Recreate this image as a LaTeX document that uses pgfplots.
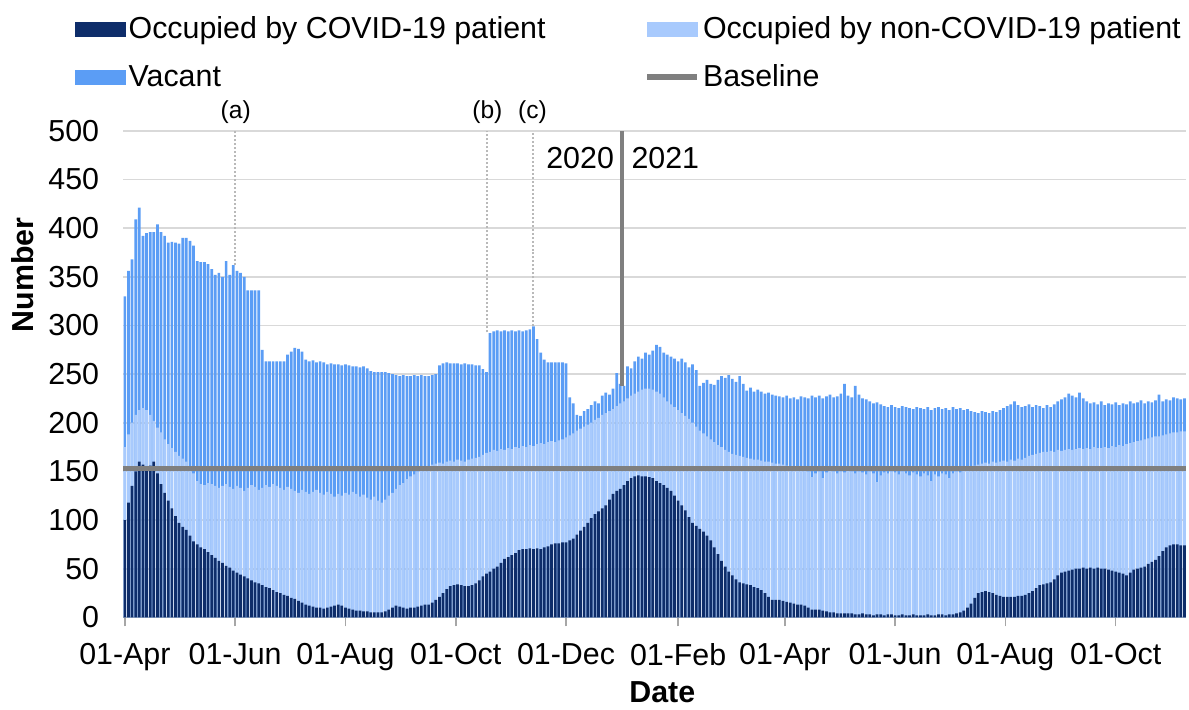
\documentclass[border=0pt]{standalone}
\usepackage{fontspec}
\setmainfont{Liberation Sans}
\usepackage{pgfplots}
\usepackage{pgfplotstable}
\pgfplotsset{compat=1.18}
\definecolor{covid}{HTML}{0E2D6A}
\definecolor{noncovid}{HTML}{A8CAFD}
\definecolor{vacant}{HTML}{5B9DF5}
\definecolor{basegray}{HTML}{7F7F7F}
\definecolor{gridgray}{HTML}{D9D9D9}
% d = days since 01-Apr-2020; c = occupied by COVID-19 patient;
% cn = occupied in total (COVID + non-COVID); t = all beds (occupied + vacant)
\pgfplotstableread{
d c cn t
0 100 175 330
2 118 188 356
4 135 200 368
6 150 208 409
8 160 213 421
10 157 215 392
12 155 213 395
14 156 208 396
16 160 202 396
18 148 195 404
20 137 190 396
22 128 183 392
24 120 178 385
26 112 174 386
28 104 170 385
30 97 166 384
32 93 163 390
34 90 160 390
36 84 155 387
38 78 148 382
40 75 140 366
42 72 137 365
44 70 136 365
46 67 138 363
48 64 137 358
50 61 135 352
52 58 133 354
54 56 135 350
56 53 137 366
58 51 134 352
60 48 132 362
62 46 135 356
64 44 133 354
66 42 130 350
68 40 133 336
70 38 136 336
72 36 134 336
74 35 131 336
76 33 133 275
78 31 136 263
80 30 134 263
82 28 137 263
84 26 135 263
86 25 133 263
88 23 131 263
90 22 134 270
92 20 132 273
94 19 130 277
96 17 128 276
98 15 131 273
100 13 129 265
102 12 127 263
104 11 129 264
106 10 131 262
108 10 128 263
110 9 126 262
112 10 129 260
114 11 127 261
116 12 124 260
118 13 127 260
120 12 125 259
122 10 128 260
124 9 126 259
126 8 129 258
128 7 127 258
130 7 124 257
132 6 126 258
134 6 123 256
136 5 121 253
138 5 124 252
140 5 120 252
142 5 118 252
144 6 121 252
146 8 125 251
148 10 128 250
150 12 132 249
152 11 136 248
154 10 138 249
156 9 142 248
158 10 145 248
160 10 147 249
162 11 150 248
164 12 152 249
166 13 153 248
168 13 155 248
170 15 157 249
172 18 158 250
174 21 159 259
176 25 158 261
178 29 160 262
180 32 161 261
182 33 160 261
184 34 162 261
186 33 161 260
188 32 160 261
190 32 162 260
192 33 163 260
194 35 164 259
196 38 165 259
198 42 167 255
200 45 169 252
202 47 170 292
204 50 172 294
206 52 171 295
208 56 173 294
210 60 172 295
212 62 174 294
214 64 173 295
216 66 175 294
218 69 174 295
220 70 176 294
222 70 175 295
224 71 177 296
226 70 176 299
228 71 178 286
230 70 179 272
232 72 178 265
234 73 180 262
236 75 181 262
238 76 180 262
240 76 182 262
242 77 183 262
244 77 185 261
246 79 187 226
248 81 189 220
250 85 192 208
252 89 194 207
254 93 196 212
256 97 198 214
258 102 200 218
260 106 203 222
262 109 205 220
264 112 208 228
266 115 210 231
268 121 212 229
270 127 214 235
272 130 217 251
274 132 220 240
276 136 222 238
278 140 225 258
280 143 228 256
282 145 230 263
284 146 232 268
286 145 234 266
288 145 235 272
290 144 235 270
292 143 234 274
294 140 232 280
296 138 230 278
298 136 226 272
300 133 222 270
302 130 219 268
304 125 216 266
306 120 213 263
308 115 210 266
310 110 207 262
312 103 204 257
314 97 200 260
316 94 196 254
318 91 192 238
320 88 189 241
322 84 186 244
324 79 183 240
326 72 180 239
328 65 177 244
330 58 175 248
332 52 172 246
334 47 170 249
336 43 168 245
338 39 167 242
340 36 166 248
342 35 165 240
344 34 164 233
346 33 163 236
348 31 162 232
350 30 162 234
352 28 161 232
354 25 160 230
356 21 160 231
358 18 159 229
360 18 158 228
362 18 158 227
364 17 157 226
366 16 156 228
368 15 155 225
370 14 154 226
372 13 153 224
374 13 152 227
376 12 153 226
378 10 150 225
380 8 144 228
382 8 148 226
384 8 150 228
386 7 143 225
388 6 149 227
390 5 151 229
392 5 150 226
394 4 148 227
396 4 150 230
398 4 149 240
400 4 151 228
402 4 150 226
404 3 148 238
406 3 150 229
408 4 149 225
410 3 147 224
412 3 150 222
414 2 148 220
416 3 139 221
418 3 146 219
420 2 149 217
422 3 148 216
424 3 150 218
426 2 149 216
428 2 147 215
430 3 150 217
432 2 148 216
434 2 146 215
436 3 149 214
438 2 147 216
440 2 145 215
442 2 148 214
444 3 146 216
446 2 140 213
448 2 147 215
450 3 145 216
452 3 148 214
454 2 147 215
456 3 143 213
458 3 148 216
460 4 150 214
462 5 149 215
464 7 151 213
466 10 153 214
468 14 155 212
470 20 156 211
472 25 157 210
474 26 158 212
476 27 159 211
478 26 158 210
480 25 160 212
482 23 159 211
484 22 160 213
486 21 161 215
488 21 160 217
490 21 162 219
492 21 161 222
494 22 163 218
496 22 162 216
498 23 164 217
500 25 166 219
502 27 167 216
504 30 168 218
506 33 169 217
508 34 170 215
510 35 170 218
512 36 171 216
514 39 170 219
516 43 172 222
518 46 171 224
520 47 172 226
522 48 173 230
524 49 172 228
526 50 173 226
528 50 174 231
530 51 173 225
532 50 174 222
534 51 173 220
536 50 175 221
538 51 174 219
540 50 174 222
542 50 175 218
544 49 174 220
546 48 176 219
548 47 175 221
550 46 177 218
552 45 176 220
554 43 178 219
556 46 179 222
558 49 180 220
560 50 181 221
562 51 182 223
564 52 183 220
566 55 184 222
568 57 185 221
570 59 186 223
572 63 186 229
574 68 187 222
576 72 188 224
578 74 189 223
580 75 190 226
582 75 190 225
584 74 191 224
586 74 191 225
}\datatable
\begin{document}
\begin{tikzpicture}
\begin{axis}[
  scale only axis, width=532.14pt, height=243.5pt,
  xmin=-1, xmax=587, ymin=0, ymax=500,
  clip=false,
  axis x line*=bottom, axis y line*=left,
  y axis line style={draw=none},
  x axis line style={draw=gray!70, line width=0.8pt},
  xtick={0,61,122,183,244,306,365,426,487,548},
  xticklabels={01-Apr,01-Jun,01-Aug,01-Oct,01-Dec,01-Feb,01-Apr,01-Jun,01-Aug,01-Oct},
  ytick={0,50,...,500},
  tick align=outside, major tick length=4.5pt,
  xtick style={draw=gray!70, line width=0.8pt},
  ytick style={draw=none},
  ymajorgrids, major grid style={draw=gridgray, line width=0.9pt},
  /pgf/number format/assume math mode=true,
  tick label style={font=\fontsize{15.2}{18}\selectfont},
  xticklabel style={anchor=north, inner sep=0pt, yshift=-8.3pt},
  yticklabel style={anchor=east, inner sep=0pt, xshift=-7.3pt},
  xlabel={Date}, ylabel={Number},
  every axis x label/.style={at={(axis description cs:0.5072,-0.154)}, anchor=center, font=\bfseries\fontsize{15.2}{18}\selectfont},
  every axis y label/.style={at={(axis description cs:-0.0941,0.7043)}, anchor=center, rotate=90, font=\bfseries\fontsize{15.2}{18}\selectfont},
  legend columns=2,
  legend style={draw=none, fill=none, inner sep=0pt, outer sep=0pt,
    at={(axis description cs:-0.04528,1.2402)}, anchor=north west,
    font=\fontsize{15.2}{18}\selectfont, row sep=7pt,
    nodes={inner sep=1.5pt, text height=11pt, text depth=3pt},
    cells={anchor=base west},
    /tikz/every even column/.append style={column sep=48pt}},
]
\addlegendimage{legend image code/.code={\fill[covid] (0pt,1.5pt) rectangle (25pt,8.5pt);}}
\addlegendentry{Occupied by COVID-19 patient}
\addlegendimage{legend image code/.code={\fill[noncovid] (0pt,1.5pt) rectangle (25pt,8.5pt);}}
\addlegendentry{Occupied by non-COVID-19 patient}
\addlegendimage{legend image code/.code={\fill[vacant] (0pt,1.5pt) rectangle (25pt,8.5pt);}}
\addlegendentry{Vacant}
\addlegendimage{legend image code/.code={\draw[basegray, line width=2.8pt] (0pt,5pt) -- (25pt,5pt);}}
\addlegendentry{Baseline}

\addplot[ybar, bar width=1.5, bar shift=0pt, fill=vacant, draw=none, forget plot] table[x=d, y=t] {\datatable};
\addplot[ybar, bar width=1.5, bar shift=0pt, fill=noncovid, draw=none, forget plot] table[x=d, y=cn] {\datatable};
\addplot[ybar, bar width=1.5, bar shift=0pt, fill=covid, draw=none, forget plot] table[x=d, y=c] {\datatable};

\addplot[forget plot, draw=gray!55, line width=1pt, densely dotted] coordinates {(61,362) (61,500)};
\addplot[forget plot, draw=gray!55, line width=1pt, densely dotted] coordinates {(200.5,293) (200.5,500)};
\addplot[forget plot, draw=gray!55, line width=1pt, densely dotted] coordinates {(225.5,299) (225.5,500)};
\addplot[forget plot, draw=basegray, line width=1.6pt] coordinates {(275,238) (275,500)};
\addplot[forget plot, draw=basegray, line width=2.8pt] coordinates {(-1,153) (587,153)};

\node[font=\fontsize{12.3}{14}\selectfont, inner sep=0pt] at (axis cs:61.3,519) {(a)};
\node[font=\fontsize{12.3}{14}\selectfont, inner sep=0pt] at (axis cs:200.5,519) {(b)};
\node[font=\fontsize{12.3}{14}\selectfont, inner sep=0pt] at (axis cs:225.4,519) {(c)};
\node[font=\fontsize{15.2}{18}\selectfont, inner sep=0pt, anchor=east] at (axis cs:270.7,472.3) {2020};
\node[font=\fontsize{15.2}{18}\selectfont, inner sep=0pt, anchor=west] at (axis cs:280,472.3) {2021};
\path (axis cs:-69.06,-90.35) rectangle (axis cs:587.85,634.5);
\end{axis}
\end{tikzpicture}
\end{document}
